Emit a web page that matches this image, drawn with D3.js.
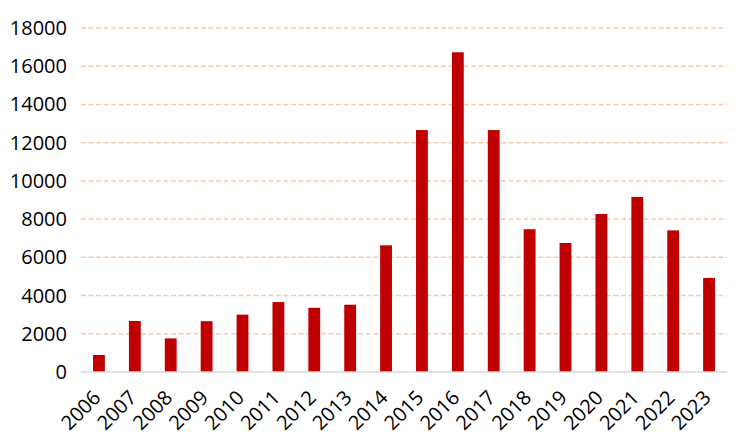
<!DOCTYPE html>
<html>
<head>
<meta charset="utf-8">
<script src="https://cdn.jsdelivr.net/npm/d3@7"></script>
<style>
  html, body { margin: 0; padding: 0; background: #fff; }
  svg { display: block; }
  text { font-family: "Open Sans", "Noto Sans", sans-serif; fill: #000; }
</style>
</head>
<body>
<div id="chart"></div>
<script>
const categories = ["2006","2007","2008","2009","2010","2011","2012","2013","2014","2015","2016","2017","2018","2019","2020","2021","2022","2023"];
const values = [890, 2670, 1760, 2660, 3000, 3660, 3360, 3520, 6630, 12660, 16730, 12660, 7470, 6750, 8270, 9160, 7410, 4920];
const yTicks = [0, 2000, 4000, 6000, 8000, 10000, 12000, 14000, 16000, 18000];

const W = 738, H = 441;
const mLeft = 81, mRight = 727, mTop = 28, mBottom = 372;

const svg = d3.select("#chart").append("svg").attr("width", W).attr("height", H);

const x = d3.scaleBand().domain(categories).range([mLeft, mRight]).paddingInner(0.67).paddingOuter(0.335);
const y = d3.scaleLinear().domain([0, 18000]).range([mBottom, mTop]);

// gridlines
svg.append("g").selectAll("line").data(yTicks.filter(d => d > 0)).join("line")
  .attr("x1", mLeft).attr("x2", mRight)
  .attr("y1", d => y(d)).attr("y2", d => y(d))
  .attr("stroke", "#f8cbad").attr("stroke-width", 1.5)
  .attr("stroke-dasharray", "5,2.5");

// y labels
svg.append("g").selectAll("text").data(yTicks).join("text")
  .attr("x", 67).attr("y", d => y(d)).attr("dy", "0.35em")
  .attr("text-anchor", "end").attr("font-size", 20)
  .text(d => d);

// bars
svg.append("g").selectAll("rect").data(values).join("rect")
  .attr("x", (d, i) => x(categories[i]))
  .attr("width", x.bandwidth())
  .attr("y", d => y(d))
  .attr("height", d => y(0) - y(d))
  .attr("fill", "#c00000");

// baseline
svg.append("line").attr("x1", mLeft).attr("x2", mRight)
  .attr("y1", y(0)).attr("y2", y(0))
  .attr("stroke", "#d9d9d9").attr("stroke-width", 1.5);

// x labels
svg.append("g").selectAll("text").data(categories).join("text")
  .attr("transform", d => `translate(${x(d) + x.bandwidth() / 2 - 2},${y(0) + 22}) rotate(-45)`)
  .attr("text-anchor", "end").attr("dy", "0.35em").attr("font-size", 20)
  .text(d => d);
</script>
</body>
</html>
